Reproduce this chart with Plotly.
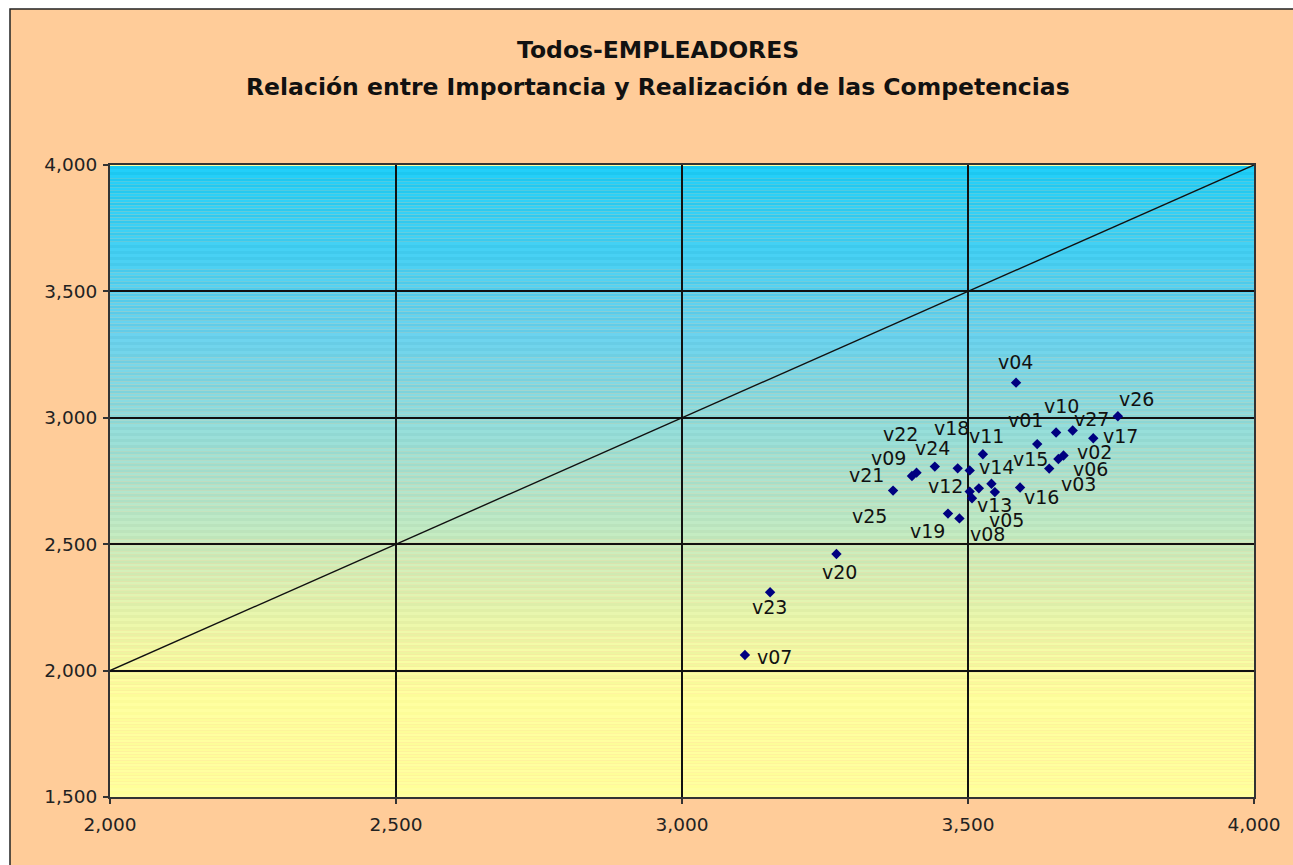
import plotly.graph_objects as go

# ---------------- data ----------------
competencias = ["v01", "v02", "v03", "v04", "v05", "v06", "v07", "v08", "v09",
                "v10", "v11", "v12", "v13", "v14", "v15", "v16", "v17", "v18",
                "v19", "v20", "v21", "v22", "v23", "v24", "v25", "v26", "v27"]
importancia = [3621, 3667, 3642, 3584, 3547, 3658, 3110, 3485, 3410,
               3654, 3526, 3503, 3507, 3519, 3541, 3591, 3719, 3503,
               3465, 3270, 3402, 3442, 3154, 3482, 3369, 3762, 3683]
realizacion = [2896, 2851, 2799, 3139, 2706, 2837, 2062, 2602, 2783,
               2942, 2856, 2708, 2682, 2721, 2739, 2724, 2919, 2792,
               2621, 2461, 2770, 2807, 2310, 2800, 2712, 3006, 2950]
diag_x = [2000, 4000]
diag_y = [2000, 4000]
x_range = [2000, 4000]
y_range = [1500, 4000]
title_1 = "Todos-EMPLEADORES"
title_2 = "Relación entre Importancia y Realización de las Competencias"

# label offsets in pixels (style), dx right, dy down
label_offsets = {
    "v01": (-12, -24), "v02": (31, -3), "v03": (29, 15), "v04": (-1, -21),
    "v05": (12, 28), "v06": (32, 10), "v07": (30, 2), "v08": (28, 16),
    "v09": (-28, -15), "v10": (5, -26), "v11": (4, -18), "v12": (-24, -6),
    "v13": (22, 7), "v14": (18, -21), "v15": (39, -25), "v16": (21, 9),
    "v17": (27, -2), "v18": (-18, -42), "v19": (-20, 17), "v20": (3, 18),
    "v21": (-45, -1), "v22": (-34, -33), "v23": (-1, 15), "v24": (-25, -20),
    "v25": (-24, 25), "v26": (19, -17), "v27": (19, -11),
}

W, H = 1293, 865
ML, MT = 110, 165
MR = W - 1254
MB = H - 797
PW, PH = W - ML - MR, H - MT - MB

FONT = "DejaVu Sans"

fig = go.Figure()

fig.add_trace(go.Scatter(x=diag_x, y=diag_y, mode="lines",
                         line=dict(color="#111111", width=1.4),
                         hoverinfo="skip", showlegend=False))
fig.add_trace(go.Scatter(x=importancia, y=realizacion, mode="markers",
                         marker=dict(symbol="diamond", size=8, color="#000080",
                                     line=dict(width=0)),
                         text=competencias, showlegend=False))


def px2paper_x(px):
    return (px - ML) / PW


def px2paper_y(py):
    return (H - MB - py) / PH


shapes = []
shapes.append(dict(type="rect", xref="paper", yref="paper", layer="below",
                   x0=px2paper_x(10), x1=px2paper_x(W + 30),
                   y0=px2paper_y(H + 30), y1=px2paper_y(9),
                   fillcolor="#FFCC99", line=dict(color="#222222", width=1.5)))

# gradient background in plot area (banded)
anchors = [(4000, (25, 200, 242)), (3330, (100, 204, 232)), (2735, (168, 222, 200)),
           (2200, (228, 240, 165)), (1900, (252, 252, 153)), (1500, (255, 255, 153))]


def col_at(v):
    for (ya, ca), (yb, cb) in zip(anchors[:-1], anchors[1:]):
        if yb <= v <= ya:
            t = (ya - v) / (ya - yb)
            return tuple(ca[i] + (cb[i] - ca[i]) * t for i in range(3))
    return anchors[-1][1]


step = 12
yv = y_range[0]
k = 0
while yv < y_range[1]:
    c = col_at(yv + step / 2)
    d = 7 if k % 2 == 0 else 0
    c = tuple(min(255, int(round(ch + d))) for ch in c)
    shapes.append(dict(type="rect", xref="x", yref="y", layer="below",
                       x0=x_range[0], x1=x_range[1], y0=yv, y1=min(yv + step, y_range[1]),
                       fillcolor="rgb(%d,%d,%d)" % c, line=dict(width=0)))
    yv += step
    k += 1

annotations = []
for n, xv, yv2 in zip(competencias, importancia, realizacion):
    dx, dy = label_offsets[n]
    annotations.append(dict(x=xv, y=yv2, xref="x", yref="y", text=n, showarrow=False,
                            xanchor="center", yanchor="middle", xshift=dx, yshift=-dy,
                            font=dict(family=FONT, size=19, color="#111111")))

annotations.append(dict(x=px2paper_x(658), y=px2paper_y(50), xref="paper", yref="paper",
                        text="<b>%s</b>" % title_1, showarrow=False,
                        xanchor="center", yanchor="middle",
                        font=dict(family=FONT, size=23.5, color="#111111")))
annotations.append(dict(x=px2paper_x(658), y=px2paper_y(87), xref="paper", yref="paper",
                        text="<b>%s</b>" % title_2, showarrow=False,
                        xanchor="center", yanchor="middle",
                        font=dict(family=FONT, size=23.5, color="#111111")))

axis_common = dict(showgrid=True, gridcolor="#111111", gridwidth=1.5,
                   showline=True, linecolor="#333333", linewidth=2, mirror=True,
                   ticks="outside", ticklen=5, tickcolor="#333333", tickwidth=1.5,
                   tickformat=",d", zeroline=False,
                   tickfont=dict(family=FONT, size=18.5, color="#222222"))

fig.update_layout(
    width=W, height=H,
    margin=dict(l=ML, r=MR, t=MT, b=MB, pad=0),
    paper_bgcolor="white",
    plot_bgcolor="#FFFF99",
    shapes=shapes,
    annotations=annotations,
    xaxis=dict(range=x_range, dtick=500, tick0=2000, ticklabelstandoff=5, **axis_common),
    yaxis=dict(range=y_range, dtick=500, tick0=1500, ticklabelstandoff=2, **axis_common),
    showlegend=False,
)

fig.write_html("out.html",
               config={"displayModeBar": False},
               post_script="document.body.style.margin='0px';"
                           "document.body.style.overflow='hidden';")
